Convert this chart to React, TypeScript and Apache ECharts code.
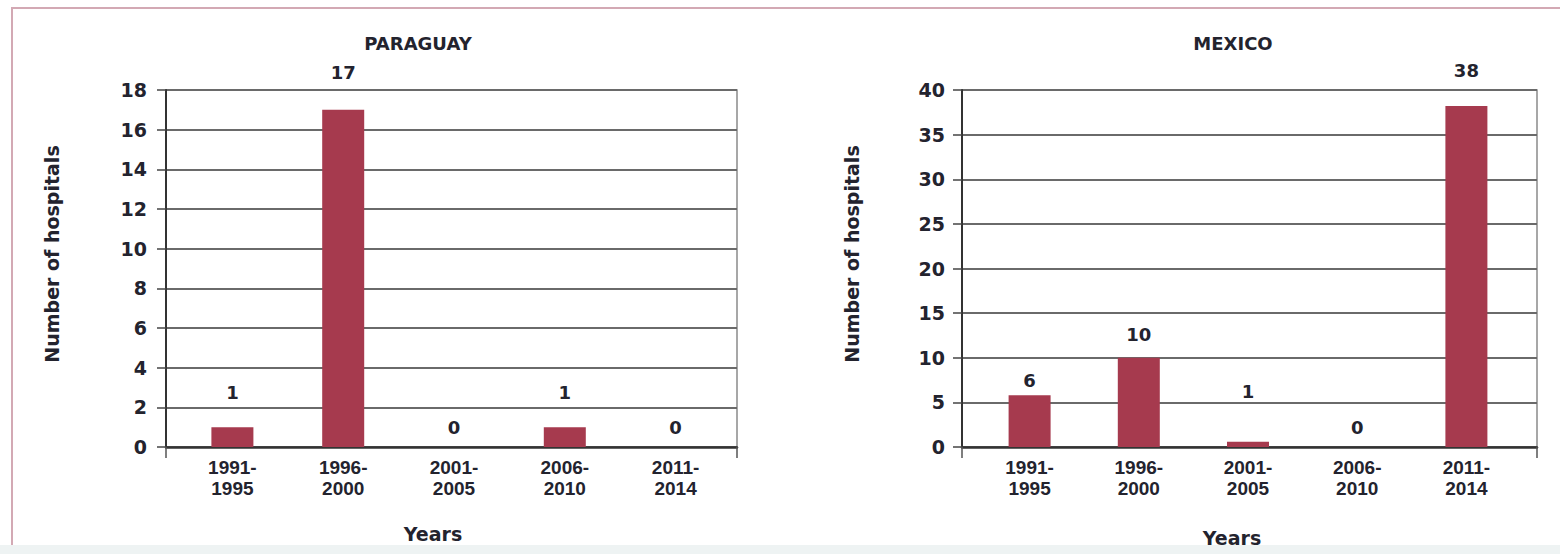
import React, { useEffect, useRef } from "react";
import * as echarts from "echarts";

// ---- data ----
const CATEGORIES = ["1991-1995", "1996-2000", "2001-2005", "2006-2010", "2011-2014"];
const PARAGUAY_VALUES = [1, 17, 0, 1, 0];
const PARAGUAY_LABELS = ["1", "17", "0", "1", "0"];
const MEXICO_VALUES = [5.8, 10, 0.6, 0, 38.2];
const MEXICO_LABELS = ["6", "10", "1", "0", "38"];
const PARAGUAY_AXIS = { min: 0, max: 18, interval: 2 };
const MEXICO_AXIS = { min: 0, max: 40, interval: 5 };
const TITLES = ["PARAGUAY", "MEXICO"];
const Y_TITLE = "Number of hospitals";
const X_TITLE = "Years";

const FONT = "'DejaVu Sans', Inter, sans-serif";
const NARROW = "'Liberation Sans Narrow', 'Arial Narrow', 'Liberation Sans', sans-serif";
const TEXT = "#23232e";
const BAR = "#a63a4e";

export default function App() {
  const ref = useRef<HTMLDivElement>(null);

  useEffect(() => {
    if (!ref.current) return;
    const chart = echarts.init(ref.current, null, { renderer: "svg" });

    const paraGap = [26, 28, 11, 26, 11];
    const mexGap = [6, 14, 41, 11, 27];

    const frameGrids = [
      { left: 166, top: 90, width: 571, height: 357 },
      { left: 962, top: 90, width: 575, height: 357 },
    ];
    const barGrids = [
      { left: 177, top: 90, width: 554, height: 357 },
      { left: 975, top: 90, width: 546, height: 357 },
    ];
    const axes = [PARAGUAY_AXIS, MEXICO_AXIS];
    const labelMargins = [19, 17];

    const grid: any[] = [];
    const xAxis: any[] = [];
    const yAxis: any[] = [];
    for (let i = 0; i < 2; i++) {
      grid.push({
        ...frameGrids[i],
        show: true,
        borderColor: "#8a8a8a",
        borderWidth: 1.5,
        backgroundColor: "transparent",
      });
      grid.push({ ...barGrids[i], show: false });
      // frame axes
      xAxis.push({
        gridIndex: i * 2,
        type: "value",
        min: 0,
        max: 1,
        interval: 1,
        axisLine: { show: true, lineStyle: { color: "#333", width: 2.5 } },
        axisTick: { show: true, length: 11, lineStyle: { color: "#555", width: 1.5 } },
        axisLabel: { show: false },
        splitLine: { show: false },
      });
      yAxis.push({
        gridIndex: i * 2,
        type: "value",
        min: axes[i].min,
        max: axes[i].max,
        interval: axes[i].interval,
        axisLine: { show: true, lineStyle: { color: "#333", width: 2 } },
        axisTick: { show: true, length: 9, lineStyle: { color: "#444", width: 1.5 } },
        axisLabel: {
          margin: labelMargins[i],
          color: TEXT,
          fontFamily: FONT,
          fontWeight: "bold",
          fontSize: 19,
        },
        splitLine: { show: true, lineStyle: { color: "#6a6a6a", width: 1.8 } },
      });
      // bar axes
      xAxis.push({
        gridIndex: i * 2 + 1,
        type: "category",
        data: CATEGORIES,
        axisLine: { show: false },
        axisTick: { show: false },
        axisLabel: {
          margin: 10,
          color: TEXT,
          fontFamily: NARROW,
          fontWeight: "bold",
          fontSize: 19,
          lineHeight: 21,
          formatter: (v: string) => v.replace("-", "-\n"),
        },
        splitLine: { show: false },
      });
      yAxis.push({
        gridIndex: i * 2 + 1,
        type: "value",
        min: axes[i].min,
        max: axes[i].max,
        interval: axes[i].interval,
        show: false,
      });
    }

    const makeSeries = (vals: number[], labels: string[], gaps: number[], idx: number) => ({
      type: "bar",
      xAxisIndex: idx,
      yAxisIndex: idx,
      barWidth: 42,
      itemStyle: { color: BAR },
      data: vals.map((v, k) => ({
        value: v,
        label: {
          show: true,
          position: "top",
          distance: gaps[k],
          formatter: () => labels[k],
          color: TEXT,
          fontFamily: FONT,
          fontWeight: "bold",
          fontSize: 18,
        },
      })),
    });

    const txt = (text: string, x: number, y: number, size: number, extra: any = {}) => ({
      type: "text",
      x,
      y,
      ...extra,
      style: {
        text,
        fill: TEXT,
        font: `bold ${size}px ${FONT}`,
        textAlign: "center",
        textVerticalAlign: "middle",
      },
    });

    chart.setOption({
      animation: false,
      backgroundColor: "#ffffff",
      grid,
      xAxis,
      yAxis,
      series: [
        makeSeries(PARAGUAY_VALUES, PARAGUAY_LABELS, paraGap, 1),
        makeSeries(MEXICO_VALUES, MEXICO_LABELS, mexGap, 3),
      ],
      graphic: [
        {
          type: "rect",
          z: -10,
          silent: true,
          shape: { x: 12, y: 8, width: 1560, height: 600 },
          style: { fill: "#ffffff", stroke: "#d3a9b4", lineWidth: 2 },
        },
        txt(TITLES[0], 418, 43, 18),
        txt(TITLES[1], 1233, 43, 18),
        txt(Y_TITLE, 52, 254, 19, { rotation: Math.PI / 2 }),
        txt(Y_TITLE, 852, 254, 19, { rotation: Math.PI / 2 }),
        txt(X_TITLE, 433, 534, 19),
        txt(X_TITLE, 1232, 538, 19),
        {
          type: "rect",
          z: 100,
          silent: true,
          shape: { x: 0, y: 545, width: 1560, height: 20 },
          style: { fill: "#eef3f3" },
        },
      ],
    });

    return () => chart.dispose();
  }, []);

  return (
    <div
      ref={ref}
      style={{ position: "absolute", left: 0, top: 0, width: 1560, height: 554 }}
    />
  );
}
